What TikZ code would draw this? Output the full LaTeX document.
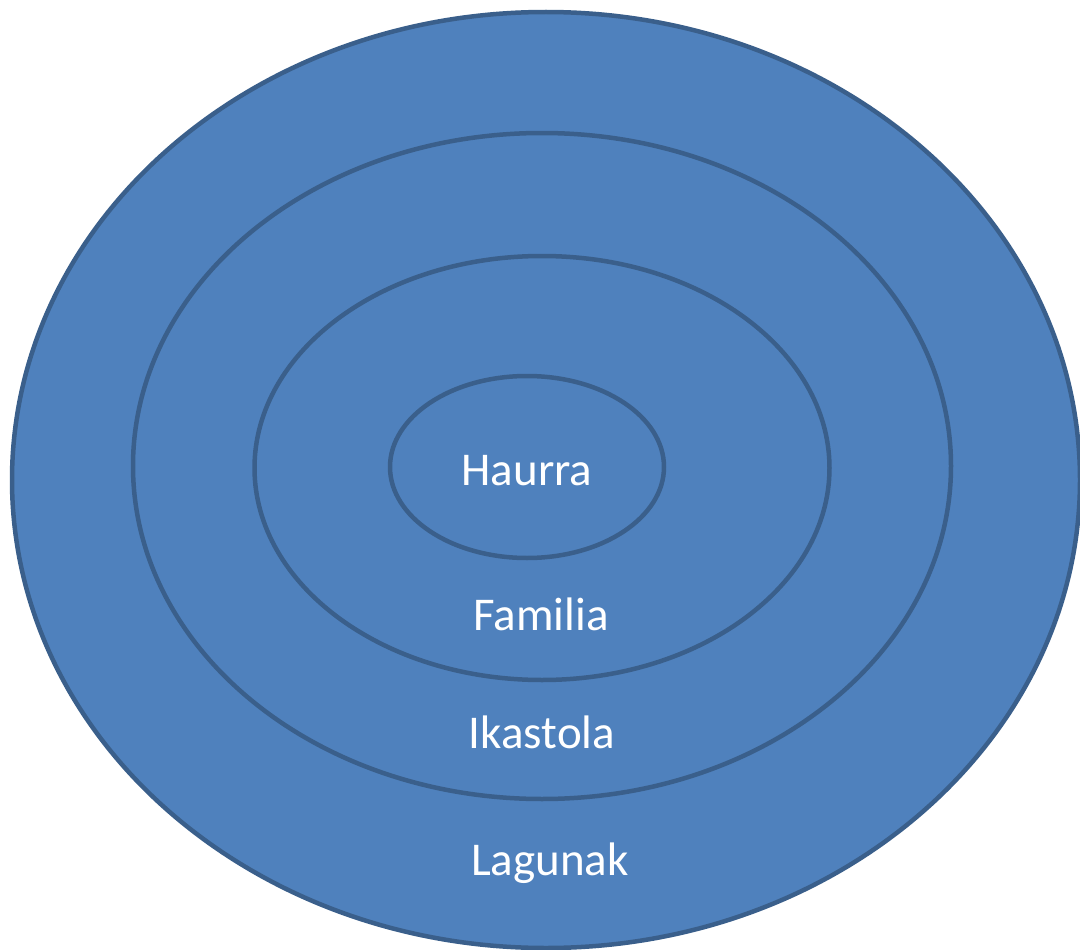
\documentclass[tikz,border=0pt]{standalone}
\usepackage{fontspec}
\setmainfont{Carlito}
\usetikzlibrary{shapes.geometric}
\definecolor{ringfill}{HTML}{4F81BD}
\definecolor{ringline}{HTML}{3A5F8B}
\tikzset{
  ring/.style={ellipse, draw=ringline, fill=ringfill, line width=4.5pt, inner sep=0pt},
  lbl/.style={text=white, font=\fontsize{47}{56}\selectfont, anchor=base, inner sep=0pt}
}
\begin{document}
\begin{tikzpicture}[x=1pt,y=-1pt]
\useasboundingbox (0,0) rectangle (1080,950);
\node[ring, minimum width=1068pt, minimum height=936pt] (lagunak) at (546,480) {};
\node[ring, minimum width=818pt, minimum height=666pt] (ikastola) at (542,466) {};
\node[ring, minimum width=575pt, minimum height=424pt] (familia) at (542,468) {};
\node[ring, minimum width=274pt, minimum height=182pt] (haurra) at (527,467) {};
\node[lbl] (t1) at (527,485) {Haurra};
\node[lbl] (t2) at (541,630) {Familia};
\node[lbl] (t3) at (542,748) {Ikastola};
\node[lbl] (t4) at (550,875) {Lagunak};
\end{tikzpicture}
\end{document}
